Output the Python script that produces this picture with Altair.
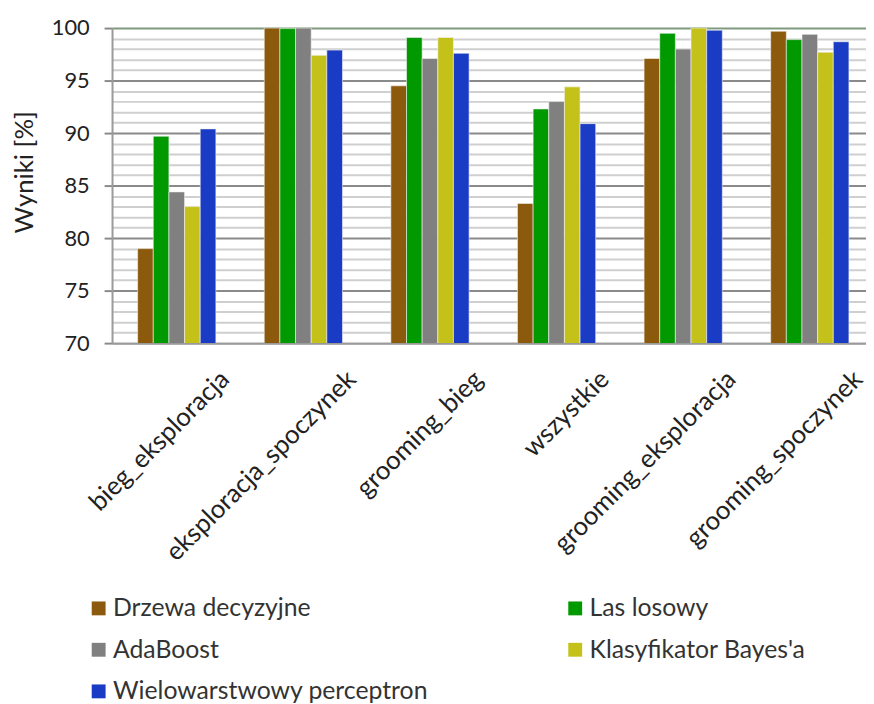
import altair as alt
import pandas as pd

categories = ["bieg_eksploracja", "eksploracja_spoczynek", "grooming_bieg",
              "wszystkie", "grooming_eksploracja", "grooming_spoczynek"]
series = ["Drzewa decyzyjne", "Las losowy", "AdaBoost",
          "Klasyfikator Bayes'a", "Wielowarstwowy perceptron"]
colors = ["#8B5A0C", "#009900", "#808080", "#C4C21A", "#1A3CC4"]
# legend is filled column by column: this order gives the reference's row layout
legend_order = ["Drzewa decyzyjne", "AdaBoost", "Wielowarstwowy perceptron",
                "Las losowy", "Klasyfikator Bayes'a"]

drzewa = [79.0, 100.0, 94.5, 83.3, 97.1, 99.7]
las = [89.7, 99.95, 99.1, 92.3, 99.5, 98.9]
adaboost = [84.4, 100.0, 97.1, 93.0, 98.0, 99.4]
bayes = [83.0, 97.4, 99.1, 94.4, 100.0, 97.7]
mlp = [90.4, 97.9, 97.6, 90.9, 99.8, 98.7]

values = [drzewa, las, adaboost, bayes, mlp]
rows = []
for s, vals in zip(series, values):
    for c, v in zip(categories, vals):
        rows.append({"kategoria": c, "metoda": s, "wynik": v})
df = pd.DataFrame(rows)

color_map = dict(zip(series, colors))
FONT = "Lato"
major = "datum.value % 5 === 0"

chart = alt.Chart(df).mark_bar(clip=True, stroke="#f4f4f4", strokeWidth=0.6).encode(
    x=alt.X("kategoria:N", sort=categories, title=None,
            scale=alt.Scale(paddingInner=0.382, paddingOuter=0.1685, align=0.6),
            axis=alt.Axis(labelAngle=-45, labelAlign="right", labelBaseline="middle",
                          labelFontSize=26, labelFont=FONT, labelColor="#222",
                          labelOffset=49, labelPadding=32, labelLimit=400, ticks=False,
                          domainColor="#9a9a9a", domainWidth=2, grid=False)),
    xOffset=alt.XOffset("metoda:N", sort=series, scale=alt.Scale(paddingInner=0, paddingOuter=0)),
    y=alt.Y("wynik:Q", title="Wyniki [%]",
            scale=alt.Scale(domain=[70, 100], nice=False, zero=False),
            axis=alt.Axis(values=list(range(70, 101)),
                          labelExpr="datum.value % 5 === 0 ? datum.label : ''",
                          labelFontSize=22, labelFont=FONT, labelColor="#222",
                          labelPadding=15, tickSize=8, tickWidth=2,
                          tickColor={"condition": {"test": major, "value": "#8a8a8a"}, "value": "transparent"},
                          grid=True,
                          gridColor={"condition": [{"test": "datum.value === 100", "value": "#7f9a7f"},
                                                   {"test": major, "value": "#8a8a8a"}],
                                     "value": "#cfcfcf"},
                          gridWidth=2,
                          domainColor="#9a9a9a", domainWidth=2,
                          titleFont=FONT, titleFontSize=26, titleFontWeight="normal",
                          titleColor="#222", titleX=-88, titleY=145,
                          titleAlign="center", titleBaseline="middle", titleAngle=-90)),
    color=alt.Color("metoda:N",
                    scale=alt.Scale(domain=legend_order,
                                    range=[color_map[s] for s in legend_order]),
                    legend=alt.Legend(title=None, orient="none", legendX=-26, legendY=573,
                                      columns=2, columnPadding=135, rowPadding=16,
                                      symbolType="square", symbolSize=196,
                                      symbolStrokeWidth=0, labelFontSize=25,
                                      labelFont=FONT, labelColor="#333", labelOffset=2,
                                      labelLimit=500)),
).properties(
    width=761, height=318,
    autosize=alt.AutoSizeParams(type="none"),
    padding={"left": 105, "top": 17, "right": 0, "bottom": 362},
).configure_view(stroke=None).configure(background="white")

chart.save("out.html", embed_options={"renderer": "svg", "actions": False})
